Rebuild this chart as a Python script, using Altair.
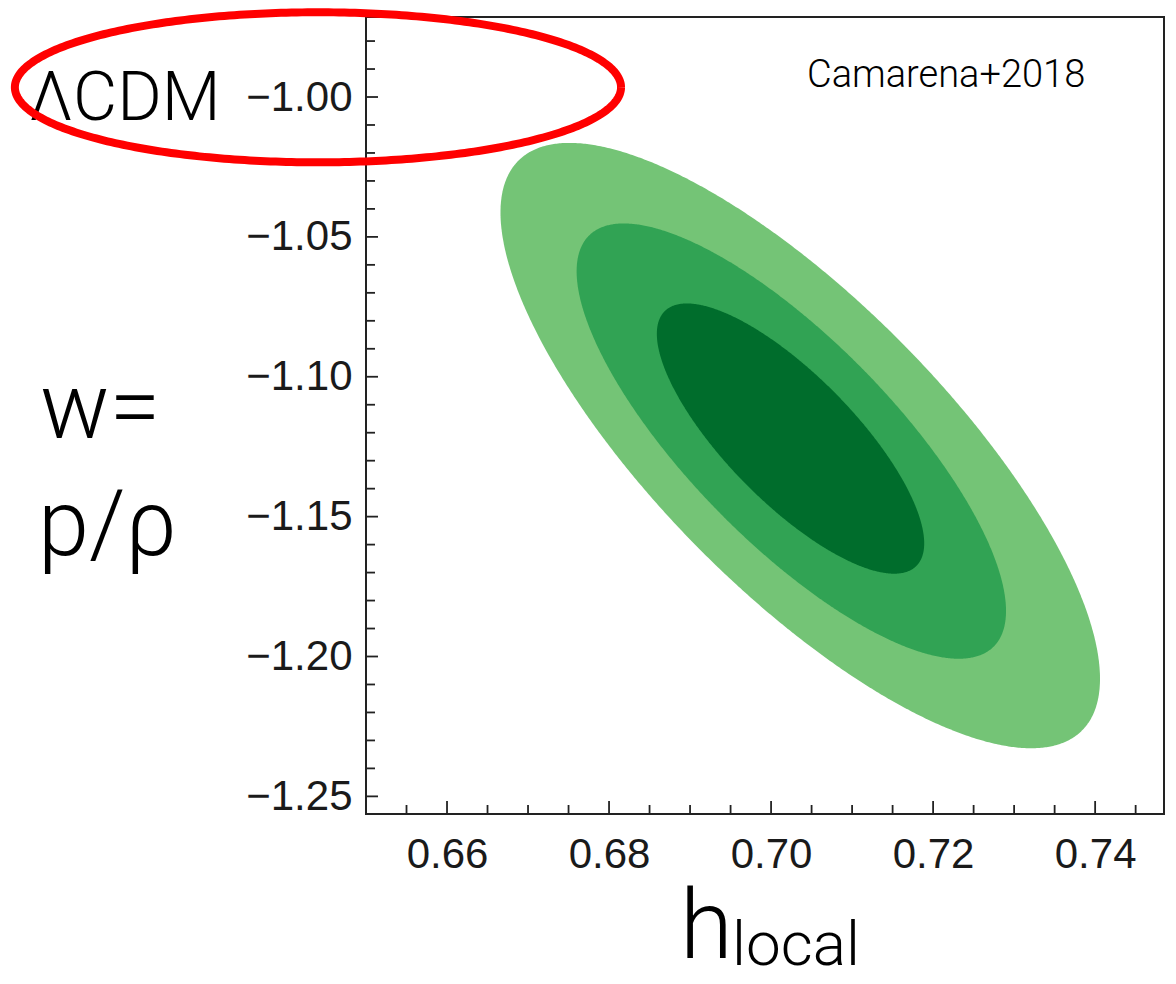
import numpy as np
import pandas as pd
import altair as alt

# ---- axis ranges and ticks ----
x_domain = [0.650, 0.7485]
y_domain = [-1.2563, -0.9714]
x_major = [0.66, 0.68, 0.70, 0.72, 0.74]
x_minor = [0.655, 0.665, 0.670, 0.675, 0.685, 0.690, 0.695, 0.705,
           0.710, 0.715, 0.725, 0.730, 0.735, 0.745]
y_major = [-1.00, -1.05, -1.10, -1.15, -1.20, -1.25]
y_minor = [-0.98, -0.99, -1.01, -1.02, -1.03, -1.04, -1.06, -1.07, -1.08,
           -1.09, -1.11, -1.12, -1.13, -1.14, -1.16, -1.17, -1.18, -1.19,
           -1.21, -1.22, -1.23, -1.24]

# ---- confidence contours (ellipse parameters) ----
levels = ["3sigma", "2sigma", "1sigma"]
centers_x = [0.7036, 0.7025, 0.7024]
centers_y = [-1.1246, -1.1230, -1.1221]
half_x = [0.0370, 0.0265, 0.0165]
half_y = [0.1082, 0.0778, 0.0483]
corr = [-0.77, -0.78, -0.775]
colors = ["#74C476", "#31A354", "#006D2C"]

# ---- red highlight ellipse around the LCDM label ----
red_center = [0.64407, -0.99653]
red_half = [0.03741, 0.02682]

# ---- texts ----
label_lcdm = "ΛCDM"
label_w1 = "w="
label_w2 = "p/ρ"
label_h = "h"
label_sub = "local"
label_ref = "Camarena+2018"

W, H = 798, 797
xs = alt.Scale(domain=x_domain, nice=False, zero=False)
ys = alt.Scale(domain=y_domain, nice=False, zero=False)

layers = []
for lev, cx, cy, hx, hy, r, col in zip(levels, centers_x, centers_y, half_x, half_y, corr, colors):
    t = np.linspace(0, np.pi, 400)
    u = -np.cos(t)  # (x-cx)/hx
    mid = cy + r * hy * u
    half = hy * np.sqrt(1 - r * r) * np.sqrt(np.clip(1 - u * u, 0, None))
    df = pd.DataFrame({"x": cx + hx * u, "lo": mid - half, "hi": mid + half})
    layers.append(
        alt.Chart(df).mark_area(color=col, opacity=1, interpolate="linear").encode(
            x=alt.X("x:Q", scale=xs,
                    axis=alt.Axis(values=x_major, format=".2f", ticks=False, domain=False,
                                  grid=False, labelFontSize=42, labelFont="Liberation Sans",
                                  labelColor="#1a1a1a", labelPadding=20, title=None)),
            y=alt.Y("lo:Q", scale=ys,
                    axis=alt.Axis(values=y_major, format=".2f", ticks=False, domain=False,
                                  grid=False, labelFontSize=42, labelFont="Liberation Sans",
                                  labelColor="#1a1a1a", labelPadding=14, title=None)),
            y2="hi:Q",
        )
    )

tick_color = "#222"
xmaj = pd.DataFrame({"v": x_major})
xmin = pd.DataFrame({"v": x_minor})
ymaj = pd.DataFrame({"v": y_major})
ymin = pd.DataFrame({"v": y_minor})
layers.append(alt.Chart(xmaj).mark_rule(color=tick_color, strokeWidth=1.8).encode(
    x=alt.X("v:Q", scale=xs), y=alt.value(H), y2=alt.value(H - 13)))
layers.append(alt.Chart(xmin).mark_rule(color=tick_color, strokeWidth=1.8).encode(
    x=alt.X("v:Q", scale=xs), y=alt.value(H), y2=alt.value(H - 9)))
layers.append(alt.Chart(ymaj).mark_rule(color=tick_color, strokeWidth=1.8).encode(
    y=alt.Y("v:Q", scale=ys), x=alt.value(0), x2=alt.value(12)))
layers.append(alt.Chart(ymin).mark_rule(color=tick_color, strokeWidth=1.8).encode(
    y=alt.Y("v:Q", scale=ys), x=alt.value(0), x2=alt.value(9)))


def txt(s, x, y, size, weight=300):
    return alt.Chart(pd.DataFrame({"t": [s]})).mark_text(
        align="left", baseline="alphabetic", font="Roboto", fontSize=size,
        fontWeight=weight, color="#000").encode(
        text="t:N", x=alt.value(x), y=alt.value(y))


layers += [
    txt(label_lcdm, -337, 103, 68),
    txt(label_w1, -326, 421, 92),
    txt(label_w2, -328, 538, 92),
    txt(label_h, 314, 941, 96),
    txt(label_sub, 366, 948, 62),
    txt(label_ref, 441, 70, 38, 300),
]

tt = np.linspace(0, 2 * np.pi, 361)
red = pd.DataFrame({
    "i": np.arange(len(tt)),
    "x": red_center[0] + red_half[0] * np.cos(tt),
    "y": red_center[1] + red_half[1] * np.sin(tt),
})
layers.append(alt.Chart(red).mark_line(color="#FF0000", strokeWidth=8).encode(
    x=alt.X("x:Q", scale=xs), y=alt.Y("y:Q", scale=ys), order="i:Q"))

chart = alt.layer(*layers).properties(
    width=W, height=H,
    padding={"left": 358, "top": 9, "right": 4, "bottom": 168},
    autosize=alt.AutoSizeParams(type="none"),
    background="white",
).configure_view(stroke="#222", strokeWidth=2)

chart.save("out.html", embed_options={"renderer": "svg", "actions": False})
